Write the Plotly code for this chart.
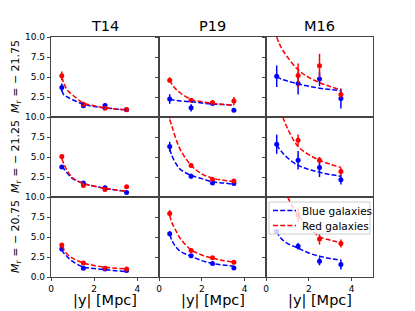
import plotly.graph_objects as go

# ---------------- data ----------------
samples = ["T14", "P19", "M16"]
mag_labels = ["−21.75", "−21.25", "−20.75"]
x_ticks = [0, 2, 4]
y_tick_vals = [0, 2.5, 5, 7.5, 10]
y_tick_text = ["0.0", "2.5", "5.0", "7.5", "10.0"]

x_points = [0.5, 1.5, 2.5, 3.5]
x_fit = [0.5, 0.6, 0.75, 1.0, 1.5, 2.0, 2.5, 3.0, 3.5]

# rows: Mr = -21.75, -21.25, -20.75 ; columns: T14, P19, M16
blue_y = [
    [[3.7, 1.4, 1.45, 0.9], [2.25, 1.15, 1.7, 0.83], [5.1, 4.2, 4.75, 2.3]],
    [[3.75, 1.75, 1.15, 0.56], [6.3, 2.6, 1.75, 1.7], [6.6, 4.6, 3.7, 2.15]],
    [[3.5, 1.08, 1.0, 0.8], [5.4, 2.65, 1.7, 1.13], [5.7, 3.85, 1.96, 1.55]],
]
blue_err = [
    [[0.5, 0.2, 0.3, 0.1], [0.6, 0.45, 0.15, 0.2], [1.35, 1.4, 0.9, 1.25]],
    [[0.2, 0.15, 0.15, 0.1], [0.6, 0.3, 0.2, 0.2], [1.2, 1.15, 1.2, 0.6]],
    [[0.2, 0.2, 0.1, 0.1], [0.3, 0.2, 0.15, 0.2], [0.3, 0.4, 0.5, 0.6]],
]
red_y = [
    [[5.15, 1.6, 1.1, 0.95], [4.6, 2.1, 1.8, 2.0], [None, 5.2, 6.4, 2.8]],
    [[5.05, 1.45, 0.95, 1.28], [10.4, 3.95, 2.2, 2.0], [None, 7.1, 4.6, 3.2]],
    [[4.0, 1.75, 1.08, 1.0], [7.95, 3.3, 2.4, 1.85], [None, 7.75, 4.75, 4.2]],
]
red_err = [
    [[0.55, 0.15, 0.12, 0.1], [0.35, 0.2, 0.15, 0.5], [0, 1.5, 1.5, 0.35]],
    [[0.3, 0.15, 0.1, 0.1], [0.6, 0.2, 0.2, 0.25], [0, 0.7, 0.4, 0.5]],
    [[0.25, 0.15, 0.1, 0.15], [0.4, 0.2, 0.15, 0.15], [0, 0.8, 0.7, 0.5]],
]
blue_fit = [
    [[3.3, 2.75, 2.5, 2.15, 1.6, 1.3, 1.15, 1.0, 0.9],
     [2.2, 2.15, 2.1, 2.0, 1.9, 1.75, 1.62, 1.55, 1.48],
     [5.05, 4.9, 4.7, 4.5, 4.15, 3.85, 3.6, 3.45, 3.3]],
    [[3.8, 3.5, 3.0, 2.3, 1.7, 1.35, 1.08, 0.88, 0.72],
     [6.0, 5.2, 4.35, 3.45, 2.7, 2.3, 1.9, 1.75, 1.6],
     [6.5, 6.1, 5.6, 4.9, 3.95, 3.45, 3.1, 2.8, 2.6]],
    [[3.4, 2.95, 2.55, 1.95, 1.25, 1.05, 0.92, 0.78, 0.68],
     [5.3, 4.6, 3.9, 3.2, 2.6, 2.05, 1.7, 1.5, 1.35],
     [5.7, 5.2, 4.7, 4.2, 3.6, 3.0, 2.6, 2.3, 2.1]],
]
red_fit = [
    [[5.0, 4.2, 3.4, 2.75, 1.75, 1.4, 1.15, 1.0, 0.9],
     [4.6, 4.1, 3.6, 3.0, 2.2, 1.9, 1.7, 1.58, 1.5],
     [10.0, 9.3, 8.5, 7.5, 5.9, 4.95, 4.3, 3.8, 3.4]],
    [[4.8, 4.1, 3.3, 2.4, 1.7, 1.35, 1.07, 0.88, 0.72],
     [9.7, 8.9, 7.6, 5.9, 3.95, 2.9, 2.35, 2.1, 1.95],
     [13.5, 12.0, 10.3, 8.6, 6.3, 5.3, 4.6, 4.1, 3.7]],
    [[3.85, 3.4, 2.85, 2.35, 1.75, 1.45, 1.22, 1.1, 1.0],
     [7.7, 6.8, 6.0, 4.8, 3.4, 2.75, 2.35, 2.05, 1.85],
     [17.0, 15.0, 12.8, 10.1, 7.7, 6.2, 5.05, 4.6, 4.3]],
]

# ---------------- layout geometry ----------------
W, H = 415, 311
col_px = [(51, 159), (159, 266), (266, 373)]
row_px = [(37, 117), (117, 197), (197, 277)]
FONT = "DejaVu Sans"
BLUE, RED = "#0000ff", "#ff0000"
DASH = "5px,2.2px"
SPINE = "#444444"


def px_x(p):
    return p / W


def px_y(p):
    return 1 - p / H


fig = go.Figure()
layout = {}

for r in range(3):
    for c in range(3):
        i = r * 3 + c + 1
        xa = "x" if i == 1 else f"x{i}"
        ya = "y" if i == 1 else f"y{i}"
        # points with error bars
        for ys, es, col in ((blue_y, blue_err, BLUE), (red_y, red_err, RED)):
            fig.add_trace(go.Scatter(
                x=x_points, y=ys[r][c], xaxis=xa, yaxis=ya, mode="markers",
                marker=dict(color=col, size=5),
                error_y=dict(type="data", array=es[r][c], color=col,
                             thickness=1.5, width=0),
                showlegend=False, hoverinfo="skip"))
        # fitted dashed curves
        for fs, col in ((blue_fit, BLUE), (red_fit, RED)):
            fig.add_trace(go.Scatter(
                x=x_fit, y=fs[r][c], xaxis=xa, yaxis=ya, mode="lines",
                line=dict(color=col, width=1.5, dash=DASH, shape="spline"),
                showlegend=False, hoverinfo="skip"))

        xk = "xaxis" if i == 1 else f"xaxis{i}"
        yk = "yaxis" if i == 1 else f"yaxis{i}"
        layout[xk] = dict(
            domain=[px_x(col_px[c][0]), px_x(col_px[c][1])],
            anchor=ya, range=[0, 5], showgrid=False, zeroline=False,
            automargin=False,
            showline=True, mirror=True, linecolor=SPINE, linewidth=1.2,
            tickvals=x_ticks, ticks="outside" if r == 2 else "",
            ticklen=3, tickcolor=SPINE, showticklabels=(r == 2),
            tickfont=dict(family=FONT, size=9, color="black"))
        tv = y_tick_vals if r == 2 else y_tick_vals[1:]
        tt = y_tick_text if r == 2 else y_tick_text[1:]
        layout[yk] = dict(
            domain=[px_y(row_px[r][1]), px_y(row_px[r][0])],
            anchor=xa, range=[0, 10], showgrid=False, zeroline=False,
            automargin=False,
            showline=True, mirror=True, linecolor=SPINE, linewidth=1.2,
            tickvals=tv, ticktext=tt, ticks="outside", ticklen=3,
            tickcolor=SPINE, showticklabels=(c == 0),
            tickfont=dict(family=FONT, size=9, color="black"))

annotations = []
for c, name in enumerate(samples):
    cx = px_x((col_px[c][0] + col_px[c][1]) / 2)
    annotations.append(dict(text=name, x=cx, y=px_y(26), xref="paper", yref="paper",
                            showarrow=False, xanchor="center", yanchor="middle",
                            font=dict(family=FONT, size=14.5, color="black")))
    annotations.append(dict(text="|y| [Mpc]", x=cx, y=px_y(300.5), xref="paper", yref="paper",
                            showarrow=False, xanchor="center", yanchor="middle",
                            font=dict(family=FONT, size=14.5, color="black")))
for r, m in enumerate(mag_labels):
    cy = px_y((row_px[r][0] + row_px[r][1]) / 2)
    annotations.append(dict(text="<i>M</i><sub>r</sub> = − " + m[1:], x=px_x(16), y=cy,
                            xref="paper", yref="paper", showarrow=False, textangle=-90,
                            xanchor="center", yanchor="middle",
                            font=dict(family=FONT, size=11, color="black")))

# legend (in the bottom-right panel)
shapes = [dict(type="rect", xref="paper", yref="paper", layer="above",
               x0=px_x(269), x1=px_x(370), y0=px_y(234), y1=px_y(202),
               fillcolor="rgba(255,255,255,0.8)", line=dict(color="#cccccc", width=1))]
for lab, col, yy in (("Blue galaxies", BLUE, 210.5), ("Red galaxies", RED, 225.5)):
    shapes.append(dict(type="line", xref="paper", yref="paper", layer="above",
                       x0=px_x(273), x1=px_x(296), y0=px_y(yy), y1=px_y(yy),
                       line=dict(color=col, width=1.5, dash=DASH)))
    annotations.append(dict(text=lab, x=px_x(300), y=px_y(yy), xref="paper", yref="paper",
                            showarrow=False, xanchor="left", yanchor="middle",
                            font=dict(family=FONT, size=10.5, color="black")))

fig.update_layout(width=W, height=H, margin=dict(l=0, r=0, t=0, b=0),
                  paper_bgcolor="white", plot_bgcolor="white",
                  annotations=annotations, shapes=shapes,
                  font=dict(family=FONT), **layout)

fig.write_html("out.html",
               config={"displayModeBar": False},
               post_script="document.body.style.margin='0';"
                           "document.body.style.overflow='hidden';")
